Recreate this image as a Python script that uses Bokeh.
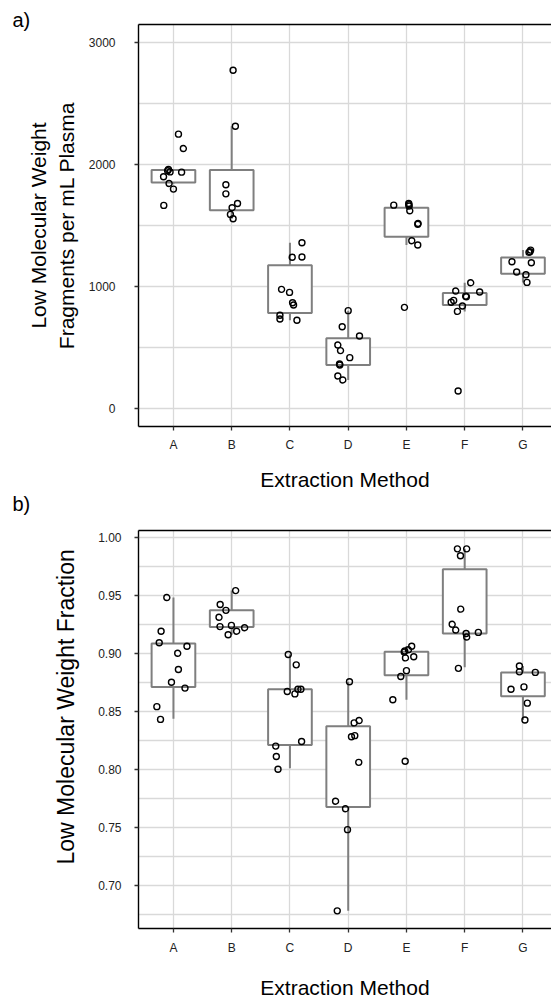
from bokeh.plotting import figure
from bokeh.models import (ColumnDataSource, FixedTicker, LinearAxis, Range1d,
                          NumeralTickFormatter, Title)
from bokeh.layouts import column
from bokeh.embed import file_html
from bokeh.resources import INLINE

cats = ["A", "B", "C", "D", "E", "F", "G"]

# ---- panel a: fragments per mL plasma ----
a_values = {
    "A": [2250, 2132, 1960, 1950, 1940, 1938, 1900, 1845, 1799, 1665],
    "B": [2775, 2315, 1834, 1760, 1681, 1646, 1591, 1555],
    "C": [1358, 1239, 1241, 976, 951, 866, 847, 763, 732, 722],
    "D": [801, 669, 593, 519, 473, 415, 363, 355, 265, 232],
    "E": [1681, 1670, 1667, 1659, 1621, 1517, 1510, 1375, 1340, 828],
    "F": [1030, 962, 954, 920, 915, 885, 870, 839, 795, 142],
    "G": [1298, 1285, 1279, 1202, 1194, 1118, 1096, 1033],
}
a_jitter = {
    "A": [0.086, 0.17, -0.086, -0.10, -0.058, 0.14, -0.17, -0.075, 0.0, -0.166],
    "B": [0.024, 0.063, -0.10, -0.10, 0.10, 0.007, -0.022, 0.024],
    "C": [0.206, 0.039, 0.206, -0.144, -0.007, 0.045, 0.062, -0.172, -0.172, 0.12],
    "D": [0.0, -0.103, 0.194, -0.178, -0.132, 0.027, -0.149, -0.144, -0.178, -0.093],
    "E": [0.039, 0.043, -0.218, 0.046, 0.057, 0.20, 0.194, 0.091, 0.194, -0.034],
    "F": [0.103, -0.154, 0.257, 0.017, 0.029, -0.189, -0.233, -0.039, -0.125, -0.113],
    "G": [0.132, 0.12, 0.103, -0.189, 0.144, -0.108, 0.051, 0.069],
}
a_q1 = [1853, 1626, 782, 355, 1408, 847, 1104]
a_med = [1946, 1722, 915, 459, 1517, 913, 1194]
a_q3 = [1955, 1955, 1173, 574, 1646, 945, 1238]
a_lo = [1842, 1555, 722, 232, 1340, 795, 1033]
a_hi = [1955, 2315, 1358, 801, 1681, 1030, 1298]
a_yticks = [0, 1000, 2000, 3000]
a_yminor = [500, 1500, 2500]

# ---- panel b: low molecular weight fraction ----
b_values = {
    "A": [0.948, 0.919, 0.909, 0.906, 0.900, 0.886, 0.875, 0.870, 0.854, 0.843],
    "B": [0.954, 0.942, 0.937, 0.931, 0.923, 0.924, 0.922, 0.919, 0.916],
    "C": [0.899, 0.890, 0.867, 0.865, 0.869, 0.869, 0.824, 0.820, 0.811, 0.800],
    "D": [0.8755, 0.840, 0.842, 0.828, 0.829, 0.806, 0.7725, 0.766, 0.748, 0.678],
    "E": [0.906, 0.903, 0.902, 0.901, 0.897, 0.896, 0.885, 0.880, 0.860, 0.807],
    "F": [0.990, 0.990, 0.984, 0.938, 0.925, 0.920, 0.917, 0.914, 0.918, 0.887],
    "G": [0.889, 0.884, 0.8835, 0.871, 0.869, 0.857, 0.8425],
}
b_jitter = {
    "A": [-0.114, -0.212, -0.244, 0.232, 0.073, 0.085, -0.034, 0.198, -0.285, -0.222],
    "B": [0.068, -0.198, -0.099, -0.218, -0.201, -0.005, 0.222, 0.085, -0.061],
    "C": [-0.029, 0.108, -0.046, 0.085, 0.137, 0.188, 0.20, -0.244, -0.234, -0.205],
    "D": [0.022, 0.102, 0.188, 0.056, 0.113, 0.181, -0.217, -0.046, -0.012, -0.188],
    "E": [0.09, 0.034, -0.029, -0.039, 0.125, -0.017, 0.0, -0.097, -0.234, -0.022],
    "F": [-0.125, 0.034, -0.073, -0.068, -0.215, -0.154, 0.024, 0.034, 0.234, -0.108],
    "G": [-0.061, -0.061, 0.212, 0.017, -0.205, 0.075, 0.034],
}
b_q1 = [0.871, 0.9227, 0.821, 0.7675, 0.881, 0.917, 0.863]
b_med = [0.893, 0.924, 0.868, 0.817, 0.897, 0.920, 0.8715]
b_q3 = [0.9085, 0.937, 0.869, 0.837, 0.9014, 0.9725, 0.8835]
b_lo = [0.8436, 0.916, 0.801, 0.678, 0.860, 0.888, 0.8425]
b_hi = [0.948, 0.954, 0.899, 0.8755, 0.906, 0.990, 0.889]
b_yticks = [0.70, 0.75, 0.80, 0.85, 0.90, 0.95, 1.00]
b_yminor = [0.675, 0.725, 0.775, 0.825, 0.875, 0.925, 0.975]

FONT = "Liberation Sans"
GRID = "#d9d9d9"
BOXC = "#7f7f7f"


def tag_title(text, offset, valign, standoff):
    return Title(text=text, align="left", offset=offset, vertical_align=valign,
                 standoff=standoff, text_font=FONT, text_font_size="20px",
                 text_font_style="normal", text_color="black")


def make_panel(values, jitter, q1, med, q3, lo, hi, yrange, yticks, yminor,
               height, borders, standoffs, yfmt=None):
    bl, bt, bb = borders
    p = figure(width=551, height=height, x_range=Range1d(0.4, 7.49),
               y_range=Range1d(*yrange), output_backend="svg", toolbar_location=None,
               min_border_left=bl, min_border_right=0, min_border_top=bt,
               min_border_bottom=bb)
    p.outline_line_color = None
    p.background_fill_color = "white"
    p.border_fill_color = "white"

    xpos = list(range(1, len(cats) + 1))
    p.xaxis.ticker = FixedTicker(ticks=xpos)
    p.xaxis.major_label_overrides = {i: c for i, c in zip(xpos, cats)}
    p.yaxis.ticker = FixedTicker(ticks=yticks, minor_ticks=yminor)
    if yfmt:
        p.yaxis.formatter = yfmt

    for ax in (p.xaxis[0], p.yaxis[0]):
        ax.axis_line_color = "black"
        ax.axis_line_width = 1.4
        ax.major_tick_line_color = "#333333"
        ax.major_tick_line_width = 1.3
        ax.major_tick_in = 0
        ax.major_tick_out = 4
        ax.minor_tick_line_color = None
        ax.major_label_text_font = FONT
        ax.major_label_text_font_size = "12px"
        ax.major_label_text_color = "#222222"
        ax.axis_label_text_font = FONT
        ax.axis_label_text_font_size = "21px"
        ax.axis_label_text_font_style = "normal"
        ax.axis_label_text_color = "black"
    p.xaxis.axis_label = "Extraction Method"
    p.xaxis.major_label_standoff = standoffs[0]
    p.xaxis.axis_label_standoff = standoffs[1]
    p.yaxis.major_label_standoff = standoffs[2]
    p.yaxis.axis_label_standoff = standoffs[3]

    top = LinearAxis(ticker=FixedTicker(ticks=[]), major_label_text_font_size="0px",
                     major_tick_line_color=None, minor_tick_line_color=None,
                     axis_line_color="black", axis_line_width=1.4)
    p.add_layout(top, "above")

    p.xgrid.grid_line_color = GRID
    p.xgrid.grid_line_width = 1.3
    p.ygrid.grid_line_color = GRID
    p.ygrid.grid_line_width = 1.3
    p.ygrid.minor_grid_line_color = GRID
    p.ygrid.minor_grid_line_width = 1.3

    box = ColumnDataSource(dict(x=xpos, q1=q1, med=med, q3=q3, lo=lo, hi=hi))
    p.segment(x0="x", y0="q3", x1="x", y1="hi", source=box, line_color=BOXC, line_width=2)
    p.segment(x0="x", y0="q1", x1="x", y1="lo", source=box, line_color=BOXC, line_width=2)
    p.vbar(x="x", width=0.75, bottom="q1", top="q3", source=box, fill_color="white",
           line_color=BOXC, line_width=2)
    p.rect(x="x", y="med", width=0.75, height=0, source=box, line_color=BOXC,
           line_width=4, fill_color=None)

    px, py = [], []
    for i, c in enumerate(cats):
        for v, j in zip(values[c], jitter[c]):
            px.append(i + 1 + j)
            py.append(v)
    p.scatter(x=px, y=py, size=6, fill_color=None, line_color="black", line_width=1.4)
    return p


# panel a (also carries the "b)" tag under its axis title)
pa = make_panel(a_values, a_jitter, a_q1, a_med, a_q3, a_lo, a_hi, (-150, 3150),
                a_yticks, a_yminor, 516, (138, 24, 90), (7, 13, 19, 8))
pa.yaxis.axis_label = "Low Molecular Weight\nFragments per mL Plasma"
pa.add_layout(tag_title("a)", -126, "bottom", -12), "above")
pa.add_layout(tag_title("b)", -126, "top", -2), "below")

# panel b
pb = make_panel(b_values, b_jitter, b_q1, b_med, b_q3, b_lo, b_hi, (0.6628, 1.0058),
                b_yticks, b_yminor, 485, (135, 14, 69), (8, 18, 13, 14),
                yfmt=NumeralTickFormatter(format="0.00"))
pb.add_layout(Title(text="Low Molecular Weight Fraction", align="left", offset=64,
                    vertical_align="bottom", standoff=33, text_font=FONT,
                    text_font_size="23px", text_font_style="normal",
                    text_color="black"), "left")

layout = column(pa, pb)
open("out.html", "w").write(file_html(layout, INLINE))
